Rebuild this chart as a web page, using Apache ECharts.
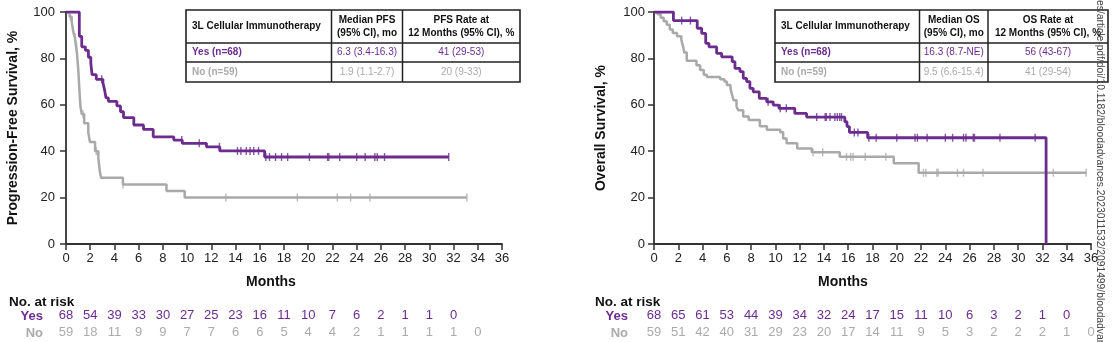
<!DOCTYPE html>
<html>
<head>
<meta charset="utf-8">
<script src="https://cdn.jsdelivr.net/npm/echarts@6/dist/echarts.min.js"></script>
<style>
html,body{margin:0;padding:0;background:#fff;}
#chart{width:1112px;height:342px;}
</style>
</head>
<body>
<div id="chart"></div>
<script>
// ---------- DATA ----------
// Kaplan-Meier step points [month, survival %]
const pfsYes = [[0,100],[1.1,89.5],[1.3,85],[1.6,83.5],[1.85,80.5],[2.05,78],[2.15,73],[2.5,71],[3.05,69.5],[3.2,66],[3.3,63],[3.5,61.5],[4.2,59.5],[4.5,57],[4.75,54.5],[5.6,51.3],[6.4,49.4],[7.2,46.2],[8.9,44.8],[9.6,43.4],[11.6,41.9],[12.7,40.1],[16.4,37.5],[31.6,37.5]];
const pfsNo = [[0,100],[0.3,98],[0.47,96],[0.58,92],[0.74,89],[0.83,85],[0.91,82],[1.0,76],[1.05,72],[1.1,67],[1.16,62],[1.2,59],[1.3,56],[1.5,52],[1.84,48],[1.98,44],[2.4,40],[2.67,37],[2.8,31],[2.9,28.6],[4.7,25.7],[8.3,22.8],[9.8,20],[33.1,20]];
const osYes = [[0,100],[1.6,96.3],[3.56,93],[3.93,90.8],[4.26,86.5],[4.53,85],[5.16,82.2],[5.57,80.7],[6.44,78.6],[6.67,75.7],[7.08,74.3],[7.35,71.4],[7.63,70],[7.9,67.1],[8.17,65.6],[8.67,62.8],[9.28,61.3],[9.82,59.9],[10.29,58.5],[11.6,56.3],[12.57,54.7],[15.72,52.7],[15.9,50.6],[16.1,48.1],[17.6,45.8],[32.3,0]];
const osNo = [[0,100],[0.3,99],[0.55,97.5],[0.8,96],[1.05,94.5],[1.3,92.5],[1.55,91],[1.9,89.5],[2.25,88],[2.4,85],[2.5,82.5],[2.7,79],[3.5,77],[3.8,75],[4.1,73],[4.35,72],[5.45,71],[5.8,70],[6.0,68.5],[6.3,67],[6.45,64],[6.55,62],[6.8,59.3],[6.95,57.6],[7.35,55],[7.8,53.5],[8.72,50.8],[9.3,49.2],[10.4,48.2],[10.64,45.5],[10.92,43.4],[11.8,41.2],[13.0,39.6],[15.3,37.6],[19.75,34.8],[21.8,30.7],[35.6,30.7]];

// Censor times (months)
const pfsYesCensor = [2.95,9.56,11.0,12.67,14.16,14.44,14.88,15.2,15.5,15.9,16.5,16.8,17.3,17.8,18.3,20.1,21.6,21.7,22.6,24.0,24.7,25.5,25.7,26.3,31.6];
const pfsNoCensor = [0.35,0.6,0.74,0.88,1.16,1.4,2.5,4.7,13.2,19.1,22.4,23.5,25.1,33.1];
const osYesCensor = [2.28,3.0,9.4,10.4,10.9,13.4,14.1,14.2,14.5,14.9,15.1,15.3,15.45,16.5,16.8,17.7,18.3,20.0,21.5,21.7,22.5,24.0,24.6,25.5,25.7,26.3,26.4,28.5,31.4];
const osNoCensor = [13.1,13.9,15.86,16.2,16.4,17.4,19.1,22.2,22.4,23.3,23.4,25.0,25.5,27.1,32.9,35.6];

// Numbers at risk (every 2 months)
const pfsRiskYes = [68,54,39,33,30,27,25,23,16,11,10,7,6,2,1,1,0];
const pfsRiskNo  = [59,18,11,9,9,7,7,6,6,5,4,4,2,1,1,1,1,0];
const osRiskYes  = [68,65,61,53,44,39,34,32,24,17,15,11,10,6,3,2,1,0];
const osRiskNo   = [59,51,42,40,31,29,23,20,17,14,11,9,5,3,2,2,2,1,0];

// Table texts
const pfsTable = {
  head: ['3L Cellular Immunotherapy', 'Median PFS\n(95% CI), mo', 'PFS Rate at\n12 Months (95% CI), %'],
  yes: ['Yes (n=68)', '6.3 (3.4-16.3)', '41 (29-53)'],
  no: ['No (n=59)', '1.9 (1.1-2.7)', '20 (9-33)']
};
const osTable = {
  head: ['3L Cellular Immunotherapy', 'Median OS\n(95% CI), mo', 'OS Rate at\n12 Months (95% CI), %'],
  yes: ['Yes (n=68)', '16.3 (8.7-NE)', '56 (43-67)'],
  no: ['No (n=59)', '9.5 (6.6-15.4)', '41 (29-54)']
};
const watermark = 'es/article-pdf/doi/10.1182/bloodadvances.2023011532/2091499/bloodadvances';

// ---------- STYLE ----------
const FONT = '"Liberation Sans", Arial, Helvetica, sans-serif';
const PURPLE = '#6B2C8E';
const GRAY = '#A9A9A9';
const GRAYTXT = '#ABABAB';
const AX = '#333';

function levelAt(curve, t) {
  let v = curve[0][1];
  for (const p of curve) { if (p[0] <= t + 1e-9) v = p[1]; else break; }
  return v;
}
function censorPts(curve, times) { return times.map(t => [t, levelAt(curve, t)]); }

const chart = echarts.init(document.getElementById('chart'), null, {renderer: 'canvas'});

const grids = [
  {left: 66, top: 12, width: 436, height: 232},
  {left: 654, top: 12, width: 437, height: 232}
];

function mainX(gi) {
  return {
    type: 'value', gridIndex: gi, min: 0, max: 36, interval: 2, position: 'bottom',
    axisLine: {show: true, onZero: false, lineStyle: {color: AX, width: 1.8}},
    axisTick: {show: true, length: 6, lineStyle: {color: AX, width: 1.5}},
    axisLabel: {fontSize: 13, color: '#222', fontFamily: FONT, margin: 8},
    splitLine: {show: false}
  };
}
function riskX(gi, arr, color, offset) {
  return {
    type: 'value', gridIndex: gi, min: 0, max: 36, interval: 2, position: 'bottom', offset: offset,
    axisLine: {show: false}, axisTick: {show: false}, splitLine: {show: false},
    axisLabel: {
      fontSize: 13, color: color, fontFamily: FONT, margin: 8,
      showMinLabel: true, showMaxLabel: true,
      formatter: v => { const i = Math.round(v / 2); return arr[i] !== undefined ? String(arr[i]) : ''; }
    }
  };
}
function yAx(gi, name, gap, margin) {
  return {
    type: 'value', gridIndex: gi, min: 0, max: 100, interval: 20,
    name: name, nameLocation: 'middle', nameGap: gap,
    nameTextStyle: {fontSize: 14, fontWeight: 'bold', color: '#111', fontFamily: FONT},
    axisLine: {show: true, onZero: false, lineStyle: {color: AX, width: 1.8}},
    axisTick: {show: true, length: 6, lineStyle: {color: AX, width: 1.5}},
    axisLabel: {fontSize: 13, color: '#222', fontFamily: FONT, margin: margin},
    splitLine: {show: false}
  };
}
function stepSeries(xi, yi, data, color, w) {
  return {type: 'line', xAxisIndex: xi, yAxisIndex: yi, data: data, step: 'end',
    showSymbol: false, symbol: 'none', lineStyle: {color: color, width: w}, silent: true, z: 3};
}
function censorSeries(xi, yi, data, color) {
  return {type: 'scatter', xAxisIndex: xi, yAxisIndex: yi, data: data, symbol: 'rect',
    symbolSize: [1.4, 8], itemStyle: {color: color}, silent: true, z: 4};
}

function tableGraphics(x0, c1, c2, x1, t) {
  const y0 = 10, y1 = 43, y2 = 62, y3 = 82;
  const els = [];
  const ls = {stroke: '#222', lineWidth: 1.5};
  els.push({type: 'rect', shape: {x: x0, y: y0, width: x1 - x0, height: y3 - y0}, style: {fill: '#fff', stroke: '#222', lineWidth: 1.6}, z: 10});
  [[x0, y1, x1, y1], [x0, y2, x1, y2], [c1, y0, c1, y3], [c2, y0, c2, y3]].forEach(s => {
    els.push({type: 'line', shape: {x1: s[0], y1: s[1], x2: s[2], y2: s[3]}, style: ls, z: 11});
  });
  const txt = (x, y, text, align, color, bold) => ({
    type: 'text', x: x, y: y, z: 12,
    style: {text: text, fill: color, font: (bold ? 'bold ' : '') + '10px ' + FONT, align: align, verticalAlign: 'middle', lineHeight: 13}
  });
  els.push(txt(x0 + 6, (y0 + y1) / 2, t.head[0], 'left', '#111', true));
  els.push(txt((c1 + c2) / 2, (y0 + y1) / 2, t.head[1], 'center', '#111', true));
  els.push(txt((c2 + x1) / 2, (y0 + y1) / 2, t.head[2], 'center', '#111', true));
  const ry1 = (y1 + y2) / 2, ry2 = (y2 + y3) / 2;
  els.push(txt(x0 + 6, ry1, t.yes[0], 'left', PURPLE, true));
  els.push(txt((c1 + c2) / 2, ry1, t.yes[1], 'center', PURPLE, false));
  els.push(txt((c2 + x1) / 2, ry1, t.yes[2], 'center', PURPLE, false));
  els.push(txt(x0 + 6, ry2, t.no[0], 'left', GRAYTXT, true));
  els.push(txt((c1 + c2) / 2, ry2, t.no[1], 'center', GRAYTXT, false));
  els.push(txt((c2 + x1) / 2, ry2, t.no[2], 'center', GRAYTXT, false));
  return els;
}
function label(x, y, text, align, color, size, bold) {
  return {type: 'text', x: x, y: y, z: 12,
    style: {text: text, fill: color, font: (bold ? 'bold ' : '') + size + 'px ' + FONT, align: align, verticalAlign: 'middle'}};
}

const graphics = []
  .concat(tableGraphics(186, 331.5, 402.5, 520, pfsTable))
  .concat(tableGraphics(775, 919.5, 988, 1108, osTable))
  .concat([
    label(271, 282, 'Months', 'center', '#111', 14, true),
    label(843, 282, 'Months', 'center', '#111', 14, true),
    label(9, 302, 'No. at risk', 'left', '#111', 13.5, true),
    label(595, 302, 'No. at risk', 'left', '#111', 13.5, true),
    label(43, 316, 'Yes', 'right', PURPLE, 13, true),
    label(43, 333, 'No', 'right', GRAYTXT, 13, true),
    label(628, 316, 'Yes', 'right', PURPLE, 13, true),
    label(628, 333, 'No', 'right', GRAYTXT, 13, true),
    {type: 'text', x: 1100, y: 0, rotation: -Math.PI / 2, z: 20,
      style: {text: watermark, fill: '#444', font: '10.3px ' + FONT, align: 'left', verticalAlign: 'middle'}}
  ]);

const option = {
  animation: false,
  backgroundColor: '#fff',
  textStyle: {fontFamily: FONT},
  grid: grids,
  xAxis: [
    mainX(0), riskX(0, pfsRiskYes, PURPLE, 57), riskX(0, pfsRiskNo, GRAYTXT, 74),
    mainX(1), riskX(1, osRiskYes, PURPLE, 57), riskX(1, osRiskNo, GRAYTXT, 74)
  ],
  yAxis: [
    yAx(0, 'Progression-Free Survival, %', 46, 11),
    yAx(1, 'Overall Survival, %', 46, 9)
  ],
  series: [
    stepSeries(0, 0, pfsNo, GRAY, 2.5),
    censorSeries(0, 0, censorPts(pfsNo, pfsNoCensor), GRAY),
    stepSeries(0, 0, pfsYes, PURPLE, 2.8),
    censorSeries(0, 0, censorPts(pfsYes, pfsYesCensor), PURPLE),
    stepSeries(3, 1, osNo, GRAY, 2.5),
    censorSeries(3, 1, censorPts(osNo, osNoCensor), GRAY),
    stepSeries(3, 1, osYes, PURPLE, 2.8),
    censorSeries(3, 1, censorPts(osYes, osYesCensor), PURPLE)
  ],
  graphic: graphics
};
chart.setOption(option);
</script>
</body>
</html>
